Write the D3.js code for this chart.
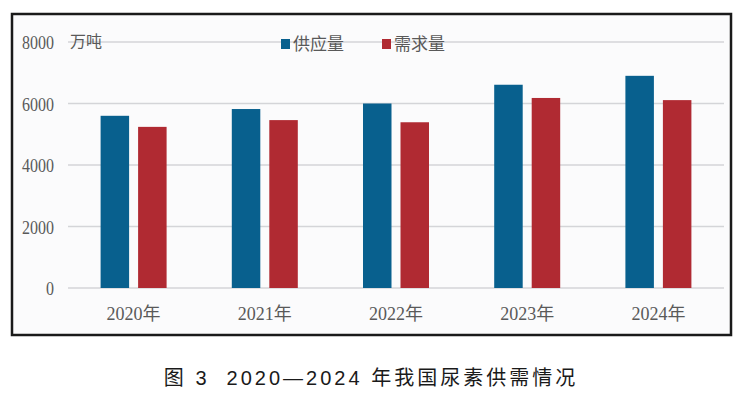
<!DOCTYPE html>
<html>
<head>
<meta charset="utf-8">
<script src="https://cdn.jsdelivr.net/npm/d3@7"></script>
<style>
  body { margin: 0; background: #fff; }
  svg { display: block; }
</style>
</head>
<body>
<svg id="chart" width="745" height="394"></svg>
<script>
var years = ["2020年", "2021年", "2022年", "2023年", "2024年"];
var seriesNames = ["供应量", "需求量"];
var supply = [5600, 5820, 6000, 6610, 6900];
var demand = [5240, 5460, 5390, 6180, 6110];
var yTicks = [0, 2000, 4000, 6000, 8000];
var unitLabel = "万吨";
var caption = "图 3  2020—2024 年我国尿素供需情况";

var colors = ["#08608e", "#b02a32"];
var serifFont = "'Liberation Serif', 'Noto Sans CJK SC', serif";

var svg = d3.select("#chart");
var plotLeft = 68, plotRight = 724, plotTop = 42, plotBottom = 288;

// frame
svg.append("rect")
    .attr("x", 12).attr("y", 14)
    .attr("width", 719).attr("height", 321)
    .attr("fill", "#fbfbfc")
    .attr("stroke", "#1a1a1a")
    .attr("stroke-width", 2.5);

var x = d3.scaleBand().domain(years).range([plotLeft, plotRight]);
var x1 = d3.scaleBand().domain(seriesNames).range([0, 66]).paddingInner(0.24);
var y = d3.scaleLinear().domain([0, 8000]).range([plotBottom, plotTop]);

// gridlines
svg.append("g").selectAll("line")
    .data(yTicks)
    .enter().append("line")
    .attr("x1", plotLeft).attr("x2", plotRight)
    .attr("y1", function (d) { return y(d); })
    .attr("y2", function (d) { return y(d); })
    .attr("stroke", "#d4d5d8")
    .attr("stroke-width", 1.5);

// y axis labels (narrow serif digits)
var yAxis = svg.append("g")
    .attr("transform", "translate(" + (plotLeft - 14) + ",0)")
    .call(d3.axisLeft(y).tickValues(yTicks).tickSize(0).tickPadding(0).tickFormat(d3.format("d")));
yAxis.select(".domain").remove();
yAxis.selectAll("text")
    .attr("x", 0)
    .attr("dy", "0.34em")
    .attr("fill", "#595959")
    .style("font-family", serifFont)
    .style("font-size", "19.5px")
    .attr("transform", "scale(0.82,1)");

// x axis labels
var xAxis = svg.append("g")
    .attr("transform", "translate(0," + plotBottom + ")")
    .call(d3.axisBottom(x).tickSize(0).tickPadding(19));
xAxis.select(".domain").remove();
xAxis.selectAll("text")
    .attr("fill", "#595959")
    .style("font-family", serifFont)
    .style("font-size", "18px");

// bars
var data = years.map(function (yr, i) {
    return { year: yr, values: [supply[i], demand[i]] };
});
var groups = svg.selectAll("g.year")
    .data(data)
    .enter().append("g")
    .attr("class", "year")
    .attr("transform", function (d) {
        return "translate(" + (x(d.year) + x.bandwidth() / 2 - 33) + ",0)";
    });
groups.selectAll("rect")
    .data(function (d) { return d.values; })
    .enter().append("rect")
    .attr("x", function (d, i) { return x1(seriesNames[i]); })
    .attr("y", function (d) { return y(d); })
    .attr("width", x1.bandwidth())
    .attr("height", function (d) { return y(0) - y(d); })
    .attr("fill", function (d, i) { return colors[i]; });

// unit label
svg.append("text")
    .attr("x", 70).attr("y", 47)
    .attr("fill", "#595959")
    .style("font-family", serifFont)
    .style("font-size", "16px")
    .text(unitLabel);

// legend
var legendX = [281, 382];
var legend = svg.selectAll("g.legend")
    .data(seriesNames)
    .enter().append("g")
    .attr("class", "legend")
    .attr("transform", function (d, i) { return "translate(" + legendX[i] + ",39)"; });
legend.append("rect")
    .attr("width", 9).attr("height", 10)
    .attr("fill", function (d, i) { return colors[i]; });
legend.append("text")
    .attr("x", 12).attr("y", 11)
    .attr("fill", "#595959")
    .style("font-family", serifFont)
    .style("font-size", "17px")
    .text(function (d) { return d; });

// caption
svg.append("text")
    .attr("x", 371).attr("y", 385)
    .attr("text-anchor", "middle")
    .attr("fill", "#1a1a1a")
    .style("white-space", "pre")
    .style("font-family", "'Liberation Sans', 'Noto Sans CJK SC', sans-serif")
    .style("font-size", "20px")
    .style("letter-spacing", "3px")
    .text(caption);
</script>
</body>
</html>
